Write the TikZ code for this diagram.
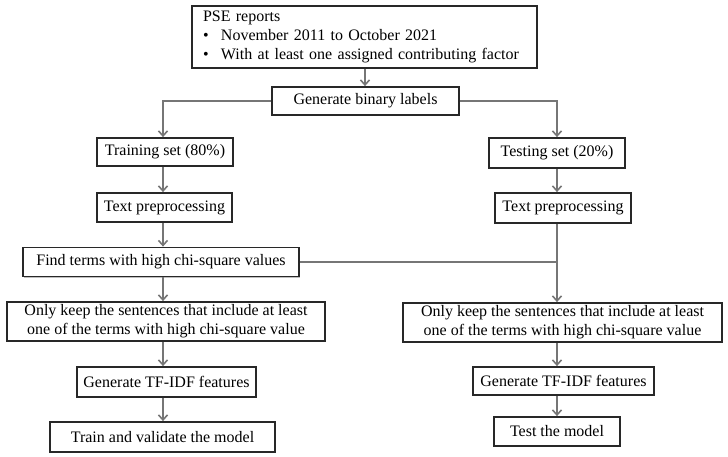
\documentclass[tikz,border=0pt]{standalone}
\usepackage{fontspec}
\setmainfont{Liberation Serif}
\usetikzlibrary{arrows.meta,shadows}
\definecolor{conncol}{RGB}{118,118,118}
\definecolor{boxline}{RGB}{40,40,40}
\begin{document}
\begin{tikzpicture}[x=1pt,y=1pt,
  box/.style={draw=boxline,line width=1.8pt,fill=white,inner sep=0pt,align=center,
    font=\fontsize{16}{19}\selectfont,
    drop shadow={shadow xshift=1.2pt,shadow yshift=-1.2pt,opacity=0.25,fill=black}},
  connline/.style={draw=conncol,line width=2pt},
  arr/.style={connline,-{Straight Barb[length=5pt,width=9pt,line width=1.6pt]}}]
\useasboundingbox (0,0) rectangle (728,-457);
% nodes
\node[box,minimum width=345,minimum height=62,text width=323,align=left,inner xsep=11pt] (top) at (364.5,-37)
 {PSE reports\\
  \makebox[18pt][l]{\textbullet}November 2011 to October 2021\\
  \makebox[18pt][l]{\textbullet}With at least one assigned contributing factor};
\node[box,minimum width=187,minimum height=28] (gen) at (365.5,-101) {Generate binary labels};
\node[box,minimum width=136,minimum height=28] (train) at (165,-152) {Training set (80\%)};
\node[box,minimum width=136,minimum height=30] (test) at (557,-153) {Testing set (20\%)};
\node[box,minimum width=135,minimum height=29] (tpL) at (164.5,-207.5) {Text preprocessing};
\node[box,minimum width=136,minimum height=30] (tpR) at (563,-208) {Text preprocessing};
\node[box,minimum width=276,minimum height=29] (find) at (161,-262) {Find terms with high chi-square values};
\node[box,minimum width=318,minimum height=39] (keepL) at (166,-321.5) {Only keep the sentences that include at least\\one of the terms with high chi-square value};
\node[box,minimum width=319,minimum height=39] (keepR) at (562.5,-322.5) {Only keep the sentences that include at least\\one of the terms with high chi-square value};
\node[box,minimum width=179,minimum height=30] (tfL) at (166.5,-382) {Generate TF-IDF features};
\node[box,minimum width=181,minimum height=28] (tfR) at (563.5,-381) {Generate TF-IDF features};
\node[box,minimum width=225,minimum height=30] (tv) at (162.5,-437) {Train and validate the model};
\node[box,minimum width=126,minimum height=29] (tm) at (557,-431.5) {Test the model};
% column guides
\coordinate (xL) at (163,0);
\coordinate (xR) at (557,0);
\coordinate (xT) at (365,0);
% connectors
\draw[arr] (top.south -| xT) -- (gen.north -| xT);
\draw[arr] (gen.west) -| (train.north -| xL);
\draw[arr] (gen.east) -| (test.north -| xR);
\draw[arr] (train.south -| xL) -- (tpL.north -| xL);
\draw[arr] (tpL.south -| xL) -- (find.north -| xL);
\draw[arr] (find.south -| xL) -- (keepL.north -| xL);
\draw[arr] (keepL.south -| xL) -- (tfL.north -| xL);
\draw[arr] (tfL.south -| xL) -- (tv.north -| xL);
\draw[arr] (test.south -| xR) -- (tpR.north -| xR);
\coordinate (jn) at (find.east -| xR);
\draw[connline] (find.east) -- (jn);
\draw[arr] (tpR.south -| xR) -- (keepR.north -| xR);
\draw[arr] (keepR.south -| xR) -- (tfR.north -| xR);
\draw[arr] (tfR.south -| xR) -- (tm.north -| xR);
\end{tikzpicture}
\end{document}
